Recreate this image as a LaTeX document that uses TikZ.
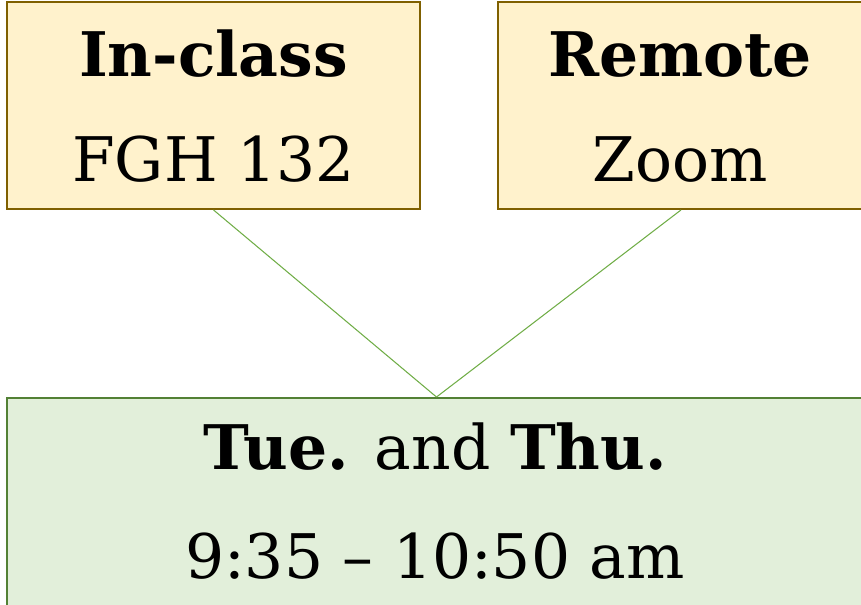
\documentclass[tikz,border=0pt]{standalone}
\usepackage{fontspec}
\setmainfont{DejaVu Serif}
\definecolor{amarillo}{HTML}{FFF2CC}
\definecolor{borde}{HTML}{7F6000}
\definecolor{verde}{HTML}{E2EFDA}
\definecolor{bordeverde}{HTML}{538135}
\definecolor{linea}{HTML}{70AD47}
\tikzset{
  caja/.style={draw=borde,fill=amarillo,line width=1.1pt,minimum height=4.14cm,inner sep=0pt},
  cajaverde/.style={draw=bordeverde,fill=verde,line width=1.1pt,minimum height=4.3cm,inner sep=0pt},
  texto/.style={anchor=base,inner sep=0pt,font=\fontsize{35}{42}\selectfont}
}
\begin{document}
\begin{tikzpicture}
\useasboundingbox (0,0) rectangle (17.22,12.1);
\clip (0,0) rectangle (17.22,12.1);
%
% cajas
\node[caja,minimum width=8.26cm] (1) at (4.27,9.99) {};
\node[caja,minimum width=7.32cm] (2) at (13.62,9.99) {};
\node[cajaverde,minimum width=17.18cm] (3) at (8.73,1.99) {};
%
% textos
\node[texto] (t1) at (4.27,10.56) {\textbf{In-class}};
\node[texto] (t2) at (4.27,8.46) {FGH 132};
\node[texto] (t3) at (13.6,10.56) {\textbf{Remote}};
\node[texto] (t4) at (13.6,8.46) {Zoom};
\node[texto] (t5) at (8.7,2.7) {\textbf{Tue.} and \textbf{Thu.}};
\node[texto] (t6) at (8.7,0.52) {9:35 -- 10:50 am};
%
\draw[linea,line width=0.6pt] (1.south) to (3.north);
\draw[linea,line width=0.6pt] (2.south) to (3.north);
%
\end{tikzpicture}
\end{document}
